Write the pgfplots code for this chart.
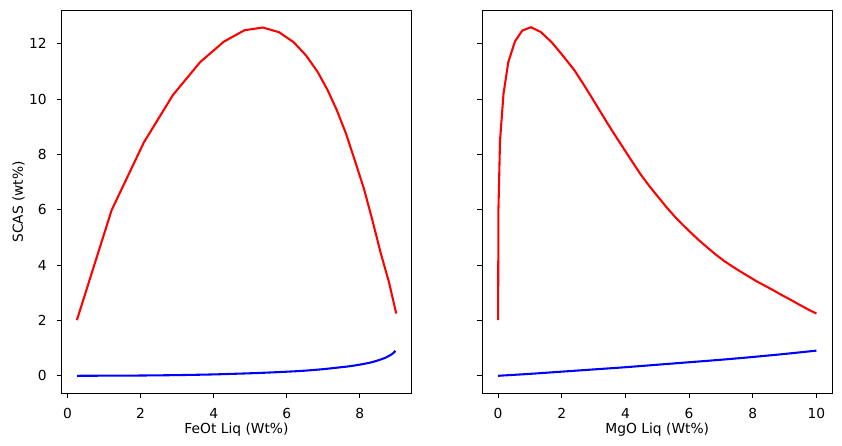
\documentclass[border=0pt]{standalone}
\usepackage{fontspec}
\setmainfont{DejaVu Sans}
\usepackage{pgfplots}
\pgfplotsset{compat=1.18}
\begin{document}
\pgfplotsset{
  mystyle/.style={
    scale only axis,
    width=253.44pt, height=276.9pt,
    ymin=-0.63, ymax=13.2,
    ytick={0,2,4,6,8,10,12},
    tick pos=left,
    tick align=outside,
    major tick length=3.5pt,
    every tick/.style={black, line width=0.8pt},
    axis line style={line width=0.8pt},
    /pgf/number format/assume math mode=true,
    tick label style={font=\fontsize{10}{12}\selectfont, inner sep=0pt},
    xticklabel style={anchor=north, yshift=-7.5pt},
    yticklabel style={anchor=east, xshift=-7pt},
    label style={font=\fontsize{10}{12}\selectfont},
    xlabel style={at={(axis description cs:0.5,-0.104)}, anchor=base, inner sep=0pt},
    ylabel style={at={(axis description cs:-0.11,0.5)}, anchor=base, inner sep=0pt},
    clip=true,
  }
}
\begin{tikzpicture}
\useasboundingbox (-41.26pt,-37.94pt) rectangle (564.98pt,284.6pt);
\begin{axis}[mystyle, at={(0pt,0pt)}, anchor=south west,
  xmin=-0.17, xmax=9.42, xtick={0,2,4,6,8},
  xlabel={FeOt Liq (Wt\%)}, ylabel={SCAS (wt\%)}]
\addplot[red, line width=1.5pt] coordinates {
(0.254,2.01) (1.206,5.99) (2.086,8.43) (2.884,10.15) (3.63,11.34) (4.28,12.08)
(4.84,12.49) (5.35,12.59) (5.79,12.42) (6.19,12.06) (6.53,11.58) (6.85,10.98)
(7.12,10.33) (7.37,9.61) (7.62,8.77) (7.86,7.81) (8.12,6.74) (8.34,5.66)
(8.57,4.46) (8.8,3.39) (9.0,2.25)
};
\addplot[blue, line width=1.5pt, smooth] coordinates {
(0.26,0.0) (1,0.004) (2,0.01) (3,0.025) (4,0.05) (5.08,0.095) (5.8,0.135)
(6.44,0.18) (7.0,0.24) (7.35,0.29) (7.75,0.35) (8.07,0.42) (8.33,0.49)
(8.53,0.57) (8.7,0.65) (8.8,0.72) (8.9,0.8) (8.98,0.9)
};
\end{axis}
\begin{axis}[mystyle, at={(304.56pt,0pt)}, anchor=south west,
  xmin=-0.5, xmax=10.5, xtick={0,2,4,6,8,10}, yticklabels={},
  xlabel={MgO Liq (Wt\%)}]
\addplot[red, line width=1.5pt] coordinates {
(0,2.01) (0.005,4.0) (0.01,6.0) (0.06,8.5) (0.17,10.2) (0.32,11.34) (0.53,12.09)
(0.76,12.48) (1.03,12.6) (1.34,12.43) (1.68,12.06) (1.87,11.8) (2.07,11.52)
(2.40,11.04) (2.67,10.56) (2.93,10.08) (3.19,9.59) (3.45,9.10) (3.71,8.63)
(3.97,8.17) (4.23,7.71) (4.49,7.26) (4.75,6.86) (5.01,6.49) (5.27,6.12)
(5.53,5.78) (5.79,5.47) (6.05,5.18) (6.31,4.90) (6.57,4.64) (6.83,4.39)
(7.09,4.16) (7.35,3.96) (7.61,3.77) (7.87,3.59) (8.13,3.41) (8.39,3.25)
(8.65,3.09) (8.91,2.92) (9.17,2.76) (9.45,2.58) (9.72,2.41) (10.0,2.25)
};
\addplot[blue, line width=1.5pt, smooth] coordinates {
(0,0.0) (1,0.07) (2,0.15) (3,0.23) (4,0.31) (5,0.40) (6,0.49) (7,0.58)
(7.56,0.635) (8,0.68) (9,0.79) (10,0.91)
};
\end{axis}
\end{tikzpicture}
\end{document}
